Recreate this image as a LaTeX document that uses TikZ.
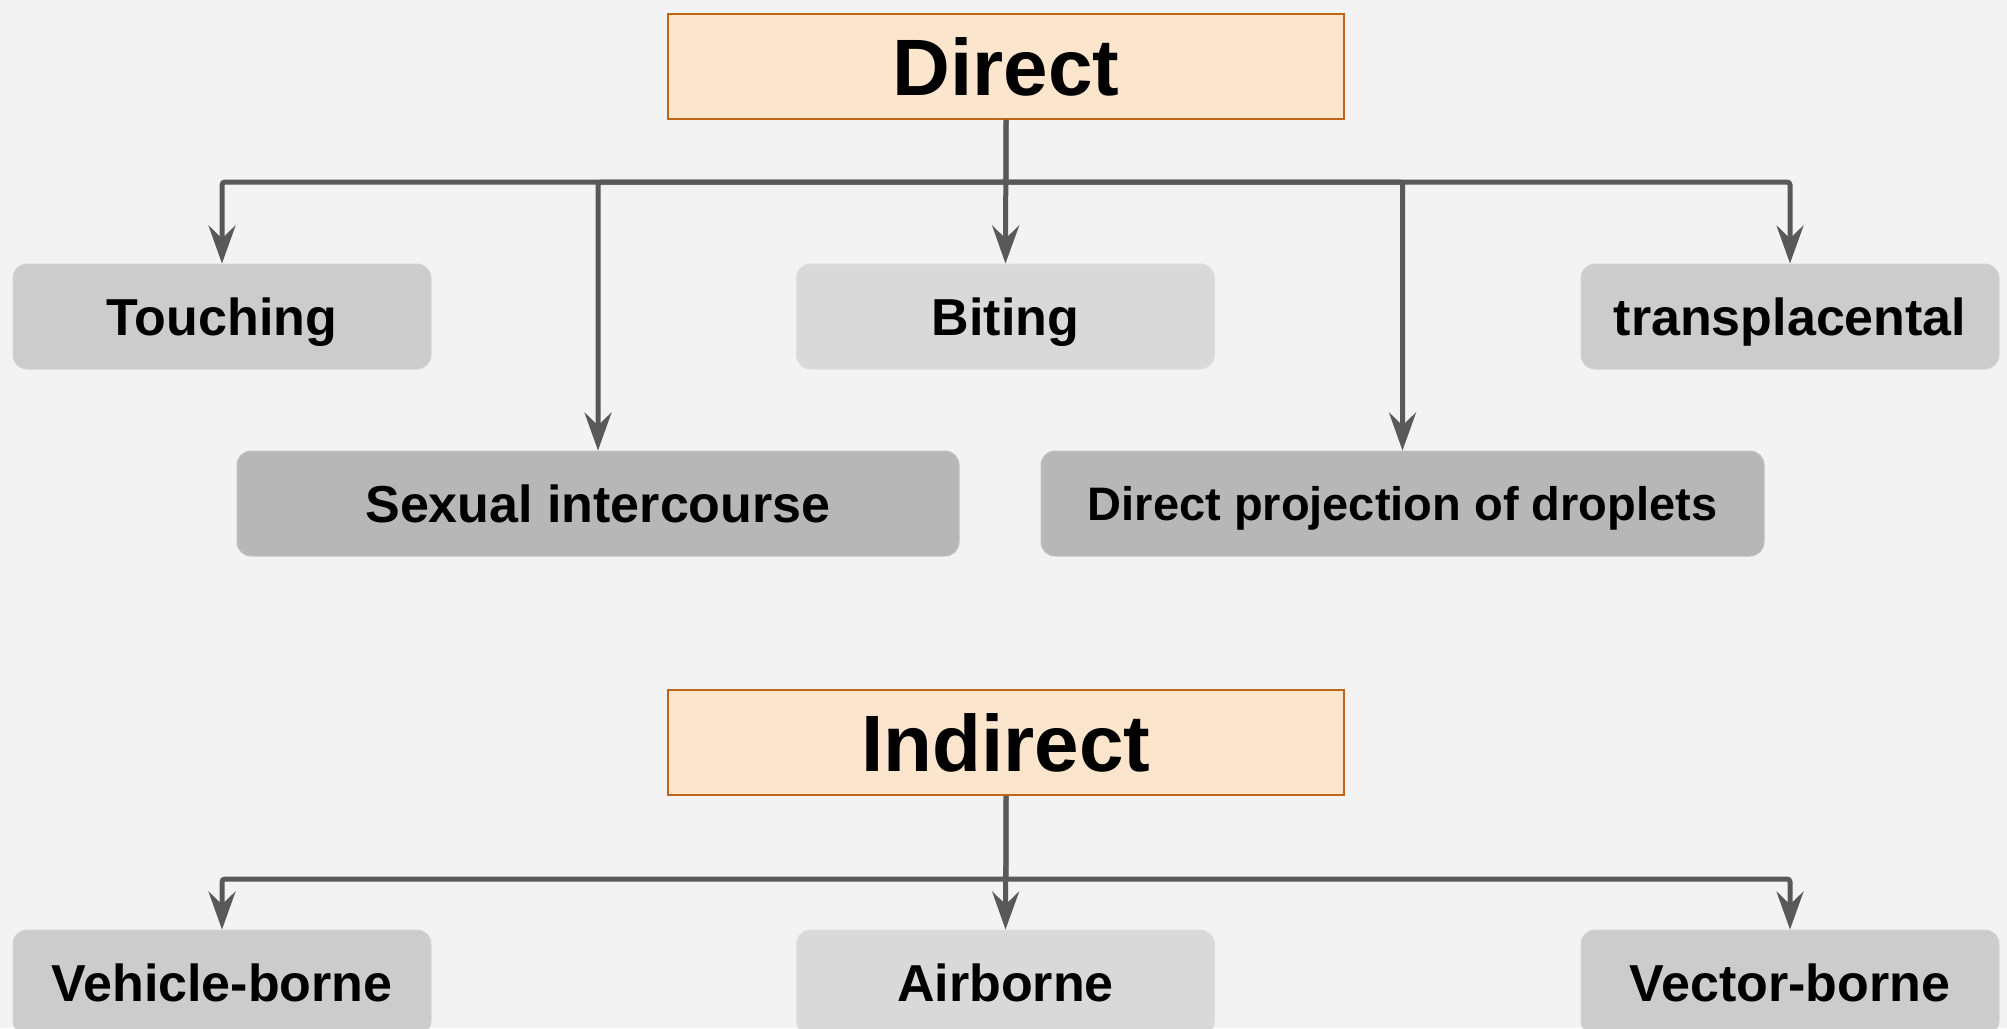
\documentclass[tikz,border=0pt]{standalone}
\usepackage{fontspec}
\setmainfont{Liberation Sans}
\usetikzlibrary{arrows.meta}
\definecolor{pagebg}{HTML}{F3F3F3}
\definecolor{peach}{HTML}{FCE5CD}
\definecolor{peachline}{HTML}{C0661A}
\definecolor{linegray}{HTML}{595959}
\definecolor{boxA}{HTML}{CCCCCC}
\definecolor{boxB}{HTML}{D9D9D9}
\definecolor{boxC}{HTML}{B7B7B7}
\tikzset{
  x=1pt, y=1pt,
  headbox/.style={draw=peachline, line width=1.8pt, fill=peach, inner sep=0pt,
    minimum width=676pt, minimum height=105pt,
    font=\fontsize{80}{80}\selectfont\bfseries, text height=57pt, text depth=0pt},
  leafbox/.style={draw=#1!85!white, line width=1pt, fill=#1, rounded corners=14pt, inner sep=0pt,
    minimum height=105pt,
    font=\fontsize{52}{52}\selectfont\bfseries, text height=37pt, text depth=0pt},
  smalltext/.style={font=\fontsize{47}{47}\selectfont\bfseries, text height=34pt},
  conn/.style={draw=linegray, line width=5pt, rounded corners=3pt,
    -{Stealth[length=38pt, width=27pt, inset=13pt]}},
}
\begin{document}
\begin{tikzpicture}
  \useasboundingbox (0,0) rectangle (2007,-1028);
  \clip (0,0) rectangle (2007,-1028);
  \fill[pagebg] (0,0) rectangle (2007,-1028);

  % direct transmission
  \node[headbox] (direct) at (1006,-66.5) {Direct};
  \node[leafbox=boxA, minimum width=418pt] (touch)  at (222,-316.5)  {Touching};
  \node[leafbox=boxB, minimum width=418pt] (bite)   at (1005.5,-316.5) {Biting};
  \node[leafbox=boxA, minimum width=418pt] (transp) at (1790,-316.5) {transplacental};
  \node[leafbox=boxC, minimum width=722pt] (sex)    at (598,-503.5)  {Sexual intercourse};
  \node[leafbox=boxC, minimum width=723pt, smalltext] (drop) at (1402.5,-503.5) {Direct projection of droplets};

  \coordinate (dbus) at (1006,-182);
  \draw[conn] (direct.south) -- (dbus) -| (touch.north);
  \draw[conn] (dbus) -| (sex.north);
  \draw[conn] (direct.south) -- (bite.north);
  \draw[conn] (dbus) -| (drop.north);
  \draw[conn] (dbus) -| (transp.north);

  % indirect transmission
  \node[headbox] (indirect) at (1006,-742.5) {Indirect};
  \node[leafbox=boxA, minimum width=418pt] (vehicle) at (222,-982.5)    {Vehicle-borne};
  \node[leafbox=boxB, minimum width=418pt] (air)     at (1005.5,-982.5) {Airborne};
  \node[leafbox=boxA, minimum width=418pt] (vector)  at (1790,-982.5)   {Vector-borne};

  \coordinate (ibus) at (1006,-879);
  \draw[conn] (indirect.south) -- (ibus) -| (vehicle.north);
  \draw[conn] (indirect.south) -- (air.north);
  \draw[conn] (ibus) -| (vector.north);
\end{tikzpicture}
\end{document}
